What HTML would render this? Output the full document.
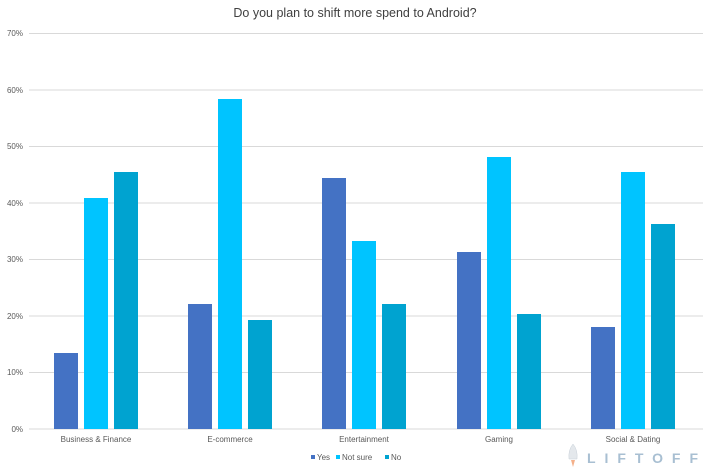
<!DOCTYPE html>
<html><head><style>body{margin:0;background:#fff}svg{display:block;font-family:"Liberation Sans",sans-serif}</style></head><body>
<svg width="711" height="469" viewBox="0 0 711 469">
<text x="355" y="17" text-anchor="middle" font-size="12.5" fill="#404040">Do you plan to shift more spend to Android?</text>
<g stroke="#d9d9d9" stroke-width="1">
<line x1="29" x2="703" y1="33.5" y2="33.5"/><line x1="29" x2="703" y1="90" y2="90"/><line x1="29" x2="703" y1="146.5" y2="146.5"/><line x1="29" x2="703" y1="203" y2="203"/><line x1="29" x2="703" y1="259.5" y2="259.5"/><line x1="29" x2="703" y1="316" y2="316"/><line x1="29" x2="703" y1="372.5" y2="372.5"/><line x1="29" x2="703" y1="429" y2="429"/>
</g>
<g font-size="8" fill="#595959" text-anchor="end">
<text x="23" y="36">70%</text><text x="23" y="93">60%</text><text x="23" y="149">50%</text><text x="23" y="206">40%</text><text x="23" y="262">30%</text><text x="23" y="319">20%</text><text x="23" y="375">10%</text><text x="23" y="432">0%</text>
</g>
<g>
<rect x="54" y="353" width="24" height="76" fill="#4472C4"/><rect x="84" y="198" width="24" height="231" fill="#00C4FF"/><rect x="114" y="172" width="24" height="257" fill="#00A3D0"/>
<rect x="188" y="304" width="24" height="125" fill="#4472C4"/><rect x="218" y="99" width="24" height="330" fill="#00C4FF"/><rect x="248" y="320" width="24" height="109" fill="#00A3D0"/>
<rect x="322" y="178" width="24" height="251" fill="#4472C4"/><rect x="352" y="241" width="24" height="188" fill="#00C4FF"/><rect x="382" y="304" width="24" height="125" fill="#00A3D0"/>
<rect x="457" y="252" width="24" height="177" fill="#4472C4"/><rect x="487" y="157" width="24" height="272" fill="#00C4FF"/><rect x="517" y="314" width="24" height="115" fill="#00A3D0"/>
<rect x="591" y="327" width="24" height="102" fill="#4472C4"/><rect x="621" y="172" width="24" height="257" fill="#00C4FF"/><rect x="651" y="224" width="24" height="205" fill="#00A3D0"/>
</g>
<g font-size="8" fill="#595959" text-anchor="middle">
<text x="96" y="442">Business &amp; Finance</text><text x="230" y="442">E-commerce</text><text x="364" y="442">Entertainment</text><text x="499" y="442">Gaming</text><text x="633" y="442">Social &amp; Dating</text>
</g>
<g font-size="8" fill="#595959">
<rect x="311" y="455" width="4" height="4" fill="#4472C4"/><text x="317" y="460">Yes</text>
<rect x="336" y="455" width="4" height="4" fill="#00C4FF"/><text x="342" y="460">Not sure</text>
<rect x="385" y="455" width="4" height="4" fill="#00A3D0"/><text x="391" y="460">No</text>
</g>
<path d="M573 444 q-5 6 -4 15 h8 q1 -9 -4 -15z" fill="#e4e8ec" stroke="#c8d0d8" stroke-width="0.5"/>
<path d="M571 460 h4 l-2 7z" fill="#f4b08a"/>
<text x="587" y="463" font-size="14" font-weight="bold" fill="#a8bfd2" textLength="111" lengthAdjust="spacing">LIFTOFF</text>
</svg>
</body></html>
